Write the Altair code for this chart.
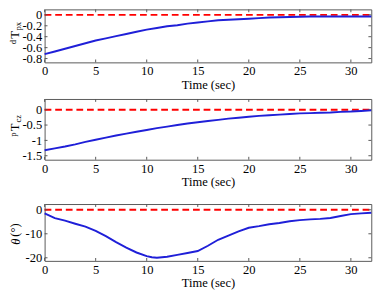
import altair as alt
import pandas as pd

# ---- data ----
t_int = list(range(0, 33))
tpx = [-0.72, -0.67, -0.62, -0.57, -0.52, -0.47, -0.43, -0.39, -0.35, -0.31,
       -0.27, -0.24, -0.21, -0.19, -0.16, -0.14, -0.12, -0.10, -0.09, -0.08,
       -0.07, -0.06, -0.05, -0.045, -0.04, -0.035, -0.03, -0.03, -0.03, -0.03,
       -0.03, -0.03, -0.03]
tcz = [-1.32, -1.26, -1.20, -1.13, -1.05, -0.98, -0.91, -0.84, -0.78, -0.72,
       -0.66, -0.60, -0.55, -0.50, -0.45, -0.41, -0.37, -0.33, -0.29, -0.26,
       -0.23, -0.20, -0.18, -0.16, -0.14, -0.12, -0.11, -0.10, -0.09, -0.07,
       -0.06, -0.04, -0.02]
t_theta = [0, 1, 2, 3, 4, 5, 6, 7, 8, 9, 10, 10.5, 11, 12, 13, 14, 15, 16, 17,
           18, 19, 20, 21, 22, 23, 24, 25, 26, 27, 28, 29, 30, 31, 32]
theta = [-1.5, -3.5, -4.5, -5.8, -7.0, -8.8, -11.0, -13.5, -15.8, -17.8, -19.3,
         -19.8, -20.0, -19.6, -18.8, -18.0, -17.2, -15.0, -12.5, -10.8, -9.0,
         -7.5, -6.8, -6.0, -5.5, -4.8, -4.3, -4.0, -3.8, -3.4, -2.6, -1.8, -1.5,
         -1.2]
ref_t = [0, 32]
ref_v = [0, 0]

x_ticks = [0, 5, 10, 15, 20, 25, 30]
y1_ticks = [0, -0.2, -0.4, -0.6, -0.8]
y2_ticks = [0, -0.5, -1, -1.5]
y3_ticks = [0, -10, -20]

FONT = "Liberation Serif, Times New Roman, Times, serif"
W = 339
FRAME = "#555555"
BLUE = "#1f1fd8"
RED = "#ff0000"

common_axis = dict(
    labelExpr="toString(datum.value)", labelOverlap=False, labelFlush=False,
    labelBound=False, labelFont=FONT, labelFontSize=13, labelColor="black",
    titleFont=FONT, titleFontSize=13, titleFontWeight="normal",
    titleColor="black", ticks=False, domain=False, grid=False,
)


def panel(t, v, ydom, yticks, height, title_parts):
    df = pd.DataFrame({"t": t, "v": v})
    xs = alt.Scale(domain=[0, 32], nice=False, zero=False)
    ys = alt.Scale(domain=ydom, nice=False, zero=False)
    xax = alt.Axis(values=x_ticks, title="Time (sec)", labelPadding=3,
                   titlePadding=1, **common_axis)
    yax = alt.Axis(values=yticks, title=None, labelPadding=3, **common_axis)
    X = lambda: alt.X("t:Q", scale=xs, axis=xax, title="Time (sec)")
    Y = lambda: alt.Y("v:Q", scale=ys, axis=yax, title=None)
    ref = alt.Chart(pd.DataFrame({"t": ref_t, "v": ref_v})).mark_line(
        color=RED, strokeWidth=2, strokeDash=[7, 4]).encode(x=X(), y=Y())
    line = alt.Chart(df).mark_line(color=BLUE, strokeWidth=2).encode(x=X(), y=Y())
    xt = pd.DataFrame({"t": x_ticks})
    yt = pd.DataFrame({"v": yticks})
    tb = alt.Chart(xt).mark_rule(color=FRAME).encode(
        x=X(), y=alt.value(height), y2=alt.value(height - 3))
    tt = alt.Chart(xt).mark_rule(color=FRAME).encode(
        x=X(), y=alt.value(0), y2=alt.value(3))
    tl = alt.Chart(yt).mark_rule(color=FRAME).encode(
        y=Y(), x=alt.value(0), x2=alt.value(3))
    tr = alt.Chart(yt).mark_rule(color=FRAME).encode(
        y=Y(), x=alt.value(W), x2=alt.value(W - 3))
    layers = [ref, tb, tt, tl, tr, line]
    one = pd.DataFrame({"a": [0]})
    for txt, fs, px, py, style in title_parts:
        layers.append(alt.Chart(one).mark_text(
            text=txt, fontSize=fs, font=FONT, angle=270, align="center",
            baseline="middle", color="black", fontStyle=style
        ).encode(x=alt.value(px), y=alt.value(py)))
    return alt.layer(*layers).properties(width=W, height=height)


p1 = panel(t_int, tpx, [-0.87, 0.1], y1_ticks, 55, [
    ("d", 9, -33, 34, "normal"),
    ("T", 13, -31, 26.5, "normal"),
    ("px", 9, -28, 17.5, "normal"),
])
p2 = panel(t_int, tcz, [-1.63, 0.35], y2_ticks, 63, [
    ("p", 9, -33, 37, "normal"),
    ("T", 13, -31, 29.5, "normal"),
    ("cz", 9, -28, 20.5, "normal"),
])
p3 = panel(t_theta, theta, [-21.3, 2.4], y3_ticks, 59, [
    ("θ", 13, -30, 39, "italic"),
    ("(°)", 13, -31, 27, "normal"),
])

chart = alt.vconcat(alt.vconcat(p1, p2, spacing=6), p3, spacing=14).properties(
    padding={"left": 0, "right": 3, "top": -5, "bottom": 0}
).configure_view(stroke=FRAME, strokeWidth=1)

chart.save("out.html", embed_options={"renderer": "svg", "actions": False})
